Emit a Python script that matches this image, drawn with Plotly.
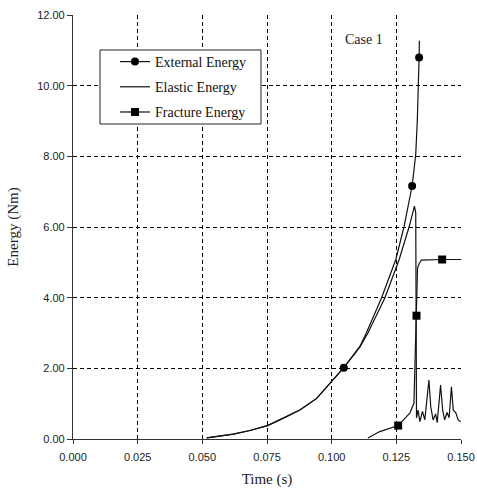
import plotly.graph_objects as go

# ---------------- data ----------------
ext_t = [0.0517, 0.0550, 0.0620, 0.0684, 0.0752, 0.0813, 0.0877, 0.0942, 0.1000,
         0.1047, 0.1109, 0.1134, 0.1193, 0.1248, 0.1280, 0.1311, 0.1318, 0.1325,
         0.1331, 0.1336, 0.1338, 0.1339]
ext_e = [0.03, 0.06, 0.14, 0.24, 0.38, 0.59, 0.82, 1.15, 1.62,
         2.02, 2.62, 3.00, 4.00, 5.08, 6.02, 7.16, 7.60, 8.06,
         9.00, 10.00, 10.80, 11.27]
ext_mark_t = [0.1047, 0.1311, 0.1338]
ext_mark_e = [2.02, 7.16, 10.80]

ela_t = [0.0517, 0.0550, 0.0620, 0.0684, 0.0752, 0.0813, 0.0877, 0.0942, 0.1000,
         0.1047, 0.1109, 0.1140, 0.1206, 0.1261, 0.1300, 0.1320, 0.1325,
         0.1328, 0.1334, 0.1341, 0.1351, 0.1360, 0.1376, 0.1383, 0.1392,
         0.1402, 0.1408, 0.1421, 0.1429, 0.1437, 0.1446, 0.1454, 0.1463,
         0.1470, 0.1480, 0.1489, 0.1499]
ela_e = [0.03, 0.06, 0.14, 0.24, 0.38, 0.59, 0.82, 1.15, 1.62,
         2.02, 2.60, 3.00, 4.00, 5.08, 6.02, 6.59, 6.40,
         0.60, 0.82, 0.49, 0.78, 0.54, 1.67, 0.92, 0.54,
         0.71, 0.46, 1.53, 0.82, 0.54, 0.75, 0.60, 1.48,
         0.82, 0.74, 0.54, 0.49]

fra_t = [0.1140, 0.1186, 0.1257, 0.1302, 0.1318, 0.1328, 0.1332, 0.1338,
         0.1347, 0.1427, 0.1500]
fra_e = [0.03, 0.21, 0.38, 0.73, 1.01, 3.49, 4.84, 4.96,
         5.06, 5.08, 5.08]
fra_mark_t = [0.1257, 0.1328, 0.1427]
fra_mark_e = [0.38, 3.49, 5.08]

x_ticks = [0.000, 0.025, 0.050, 0.075, 0.100, 0.125, 0.150]
y_ticks = [0, 2, 4, 6, 8, 10, 12]

names = ["External Energy", "Elastic Energy", "Fracture Energy"]

# ---------------- figure ----------------
LC = "#111111"
LW = 1.2
fig = go.Figure()

fig.add_trace(go.Scatter(x=ext_t, y=ext_e, mode="lines", line=dict(color=LC, width=LW),
                         showlegend=False, hoverinfo="skip"))
fig.add_trace(go.Scatter(x=ext_mark_t, y=ext_mark_e, mode="markers",
                         marker=dict(symbol="circle", size=8, color="black"),
                         showlegend=False))
fig.add_trace(go.Scatter(x=ela_t, y=ela_e, mode="lines", line=dict(color=LC, width=LW),
                         showlegend=False))
fig.add_trace(go.Scatter(x=fra_t, y=fra_e, mode="lines", line=dict(color=LC, width=LW),
                         showlegend=False))
fig.add_trace(go.Scatter(x=fra_mark_t, y=fra_mark_e, mode="markers",
                         marker=dict(symbol="square", size=8, color="black"),
                         showlegend=False))

# legend entries
fig.add_trace(go.Scatter(x=[None], y=[None], mode="lines+markers", name=names[0],
                         legendgroup="a", line=dict(color=LC, width=LW),
                         marker=dict(symbol="circle", size=8, color="black")))
fig.add_trace(go.Scatter(x=[None], y=[None], mode="lines", name=names[1],
                         legendgroup="b", line=dict(color=LC, width=LW)))
fig.add_trace(go.Scatter(x=[None], y=[None], mode="lines+markers", name=names[2],
                         legendgroup="c", line=dict(color=LC, width=LW),
                         marker=dict(symbol="square", size=8, color="black")))

fig.add_annotation(x=0.1124, y=11.32, text="Case 1", showarrow=False,
                   font=dict(family="Liberation Serif", size=14, color="#222"),
                   xanchor="center", yanchor="middle")

# legend frame (opaque box)
fig.add_shape(type="rect", xref="paper", yref="paper",
              x0=0.0696, x1=0.4845, y0=0.7429, y1=0.9175,
              line=dict(color="#222", width=1), fillcolor="white", layer="above")

grid = dict(showgrid=True, gridcolor="black", gridwidth=1, griddash="4px,3px")

fig.update_xaxes(range=[0, 0.15], tickvals=x_ticks, tickformat=".3f",
                 showline=True, linecolor="#333", linewidth=1.2,
                 ticks="outside", ticklen=4, tickcolor="#333", ticklabelstandoff=4,
                 tickfont=dict(family="Liberation Sans", size=11, color="#222"),
                 title=dict(text="Time (s)", standoff=11,
                            font=dict(family="Liberation Serif", size=15, color="#222")),
                 zeroline=False, automargin=False, **grid)
fig.update_yaxes(range=[0, 12], tickvals=y_ticks, tickformat=".2f",
                 showline=True, linecolor="#333", linewidth=1.2,
                 ticks="outside", ticklen=5, tickcolor="#333",
                 tickfont=dict(family="Liberation Sans", size=11, color="#222"),
                 title=dict(text="Energy (Nm)", standoff=14,
                            font=dict(family="Liberation Serif", size=15, color="#222")),
                 zeroline=False, automargin=False, **grid)

fig.update_layout(
    width=477, height=496,
    margin=dict(l=73, r=16, t=15, b=57, autoexpand=False),
    plot_bgcolor="white", paper_bgcolor="white",
    legend=dict(x=0.1082, y=0.9269, xanchor="left", yanchor="top",
                bgcolor="rgba(0,0,0,0)", borderwidth=0,
                font=dict(family="Liberation Serif", size=14, color="#111"),
                tracegroupgap=4, itemwidth=30),
)

fig.write_html("out.html")
